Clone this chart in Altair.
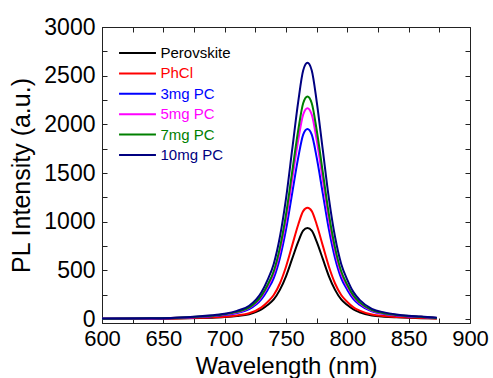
import altair as alt
import pandas as pd

wavelength = [600, 620, 640, 660, 680, 690, 700, 710, 720, 730, 735, 740, 745, 750, 755, 760,
              764, 767.5, 771, 775, 780, 785, 790, 795, 800, 805, 810, 820, 830, 840, 850, 860, 873]

series_names = ["Perovskite", "PhCl", "3mg PC", "5mg PC", "7mg PC", "10mg PC"]
series_colors = ["#000000", "#FF0000", "#0000FF", "#FF00FF", "#008000", "#000080"]

perovskite = [1, 2, 3, 5, 10, 14, 20, 30, 49, 98, 143, 201, 299, 439, 617, 795,
              907, 935, 907, 795, 617, 439, 299, 201, 143, 98, 70, 37, 24, 17, 12, 9, 5]
phcl = [2, 2, 3, 6, 13, 17, 24, 37, 59, 120, 175, 246, 365, 537, 754, 971,
        1108, 1142, 1108, 971, 754, 537, 365, 246, 175, 120, 86, 46, 30, 21, 15, 11, 6]
pc3 = [3, 4, 6, 11, 21, 29, 41, 62, 102, 205, 299, 420, 625, 918, 1289, 1660,
       1894, 1953, 1894, 1660, 1289, 918, 625, 420, 299, 205, 146, 78, 51, 35, 25, 20, 10]
pc5 = [3, 4, 6, 12, 24, 32, 45, 69, 113, 227, 331, 465, 693, 1018, 1429, 1840,
       2100, 2165, 2100, 1840, 1429, 1018, 693, 465, 331, 227, 162, 87, 56, 39, 28, 22, 11]
pc7 = [3, 5, 7, 13, 25, 34, 48, 73, 119, 240, 350, 491, 731, 1074, 1508, 1942,
       2216, 2285, 2216, 1942, 1508, 1074, 731, 491, 350, 240, 171, 91, 59, 41, 30, 23, 11]
pc10 = [4, 5, 8, 14, 29, 39, 55, 84, 137, 276, 403, 566, 842, 1237, 1737, 2237,
        2553, 2632, 2553, 2237, 1737, 1237, 842, 566, 403, 276, 197, 105, 68, 47, 34, 26, 13]

x_ticks = [600, 650, 700, 750, 800, 850, 900]
x_minor = [600 + 25 * i for i in range(13)]
y_ticks = [0, 500, 1000, 1500, 2000, 2500, 3000]
y_minor = [250 * i for i in range(13)]

all_values = [perovskite, phcl, pc3, pc5, pc7, pc10]
rows = []
for name, vals in zip(series_names, all_values):
    for w, v in zip(wavelength, vals):
        rows.append({"wl": w, "pl": v, "sample": name, "order": series_names.index(name)})
df = pd.DataFrame(rows)

W, H = 368, 296
FONT = "Liberation Sans"
xscale = alt.Scale(domain=[600, 900], nice=False, zero=False)
yscale = alt.Scale(domain=[-41, 3000], nice=False, zero=False)

color_expr = " : ".join(
    [f"datum.value == '{n}' ? '{c}'" for n, c in zip(series_names, series_colors)]
) + " : 'black'"

main = alt.Chart(df).mark_line(strokeWidth=2, interpolate="monotone").encode(
    x=alt.X("wl:Q", scale=xscale,
            axis=alt.Axis(values=x_ticks, title="Wavelength (nm)", ticks=False, grid=False,
                          labelFontSize=22, titleFontSize=24, labelFont=FONT, titleFont=FONT,
                          titleFontWeight="normal", labelColor="black", titleColor="black",
                          domainColor="#222", labelPadding=5,
                          titleY=50, titleBaseline="alphabetic",
                          labelFlush=False, orient="bottom", format="d")),
    y=alt.Y("pl:Q", scale=yscale,
            axis=alt.Axis(values=y_ticks, title="PL Intensity (a.u.)", ticks=False, grid=False,
                          labelFontSize=23, titleFontSize=25, labelFont=FONT, titleFont=FONT,
                          titleFontWeight="normal", labelColor="black", titleColor="black",
                          domainColor="#222", labelPadding=7, titlePadding=9,
                          labelFlush=False, orient="left", format="d")),
    color=alt.Color("sample:N",
                    scale=alt.Scale(domain=series_names, range=series_colors),
                    legend=alt.Legend(title=None, orient="none", legendX=25.5, legendY=16,
                                      symbolType="M-2.05,0H2.05", symbolSize=324,
                                      symbolStrokeWidth=2, labelFontSize=15, labelFont=FONT,
                                      labelOffset=13, rowPadding=2.4, padding=0,
                                      labelColor={"expr": color_expr})),
    order=alt.Order("order:Q"),
    detail="sample:N",
)

def frame_layer(xorient, xoff, yorient, yoff):
    return alt.Chart(df).mark_line(strokeOpacity=0).encode(
        x=alt.X("wl:Q", scale=xscale,
                axis=alt.Axis(values=x_minor, labels=False, title=None, grid=False,
                              domain=True, domainColor="#222", tickColor="#222", tickSize=5,
                              orient=xorient, offset=xoff)),
        y=alt.Y("pl:Q", scale=yscale,
                axis=alt.Axis(values=y_minor, labels=False, title=None, grid=False,
                              domain=True, domainColor="#222", tickColor="#222", tickSize=5,
                              orient=yorient, offset=yoff)),
        detail="sample:N",
    )

inner_bl = frame_layer("top", -H, "right", -W)
inner_tr = frame_layer("bottom", -H, "left", -W)

chart = alt.layer(main, inner_bl, inner_tr).resolve_axis(x="independent", y="independent").properties(
    width=W, height=H,
    autosize=alt.AutoSizeParams(type="none"),
    padding={"left": 102, "top": 27, "right": 23, "bottom": 55},
).configure_view(stroke=None).configure(background="white")

chart.save("out.html", embed_options={"renderer": "svg", "actions": False})
